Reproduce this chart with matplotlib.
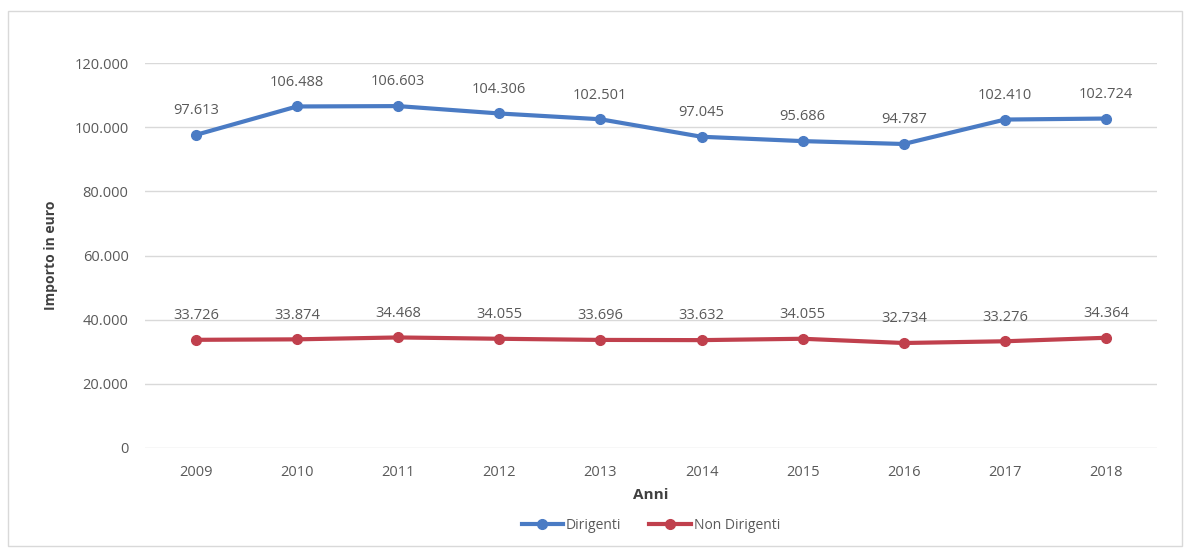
import matplotlib.pyplot as plt
import matplotlib.ticker as mtick
from matplotlib.patches import Rectangle

plt.rcParams["font.family"] = ["Open Sans", "DejaVu Sans"]

anni = ['2009', '2010', '2011', '2012', '2013', '2014', '2015', '2016', '2017', '2018']
dirigenti = [97613, 106488, 106603, 104306, 102501, 97045, 95686, 94787, 102410, 102724]
non_dirigenti = [33726, 33874, 34468, 34055, 33696, 33632, 34055, 32734, 33276, 34364]

blue = '#4a7bc4'
red = '#c0404d'
grey_text = '#595959'


def it_fmt(v, pos=None):
    return f'{int(v):,}'.replace(',', '.')


fig = plt.figure(figsize=(11.9, 5.49), dpi=100)
ax = fig.add_axes([0.122, 0.184, 0.850, 0.701])

x = range(len(anni))
ax.plot(x, dirigenti, color=blue, lw=3, marker='o', ms=7, label='Dirigenti', zorder=3)
ax.plot(x, non_dirigenti, color=red, lw=3, marker='o', ms=7, label='Non Dirigenti', zorder=3)

# etichette sopra i punti
for i, v in enumerate(dirigenti):
    ax.annotate(it_fmt(v), (i, v), xytext=(0, 12), textcoords='offset points',
                ha='center', va='bottom', fontsize=10.5, color=grey_text)
for i, v in enumerate(non_dirigenti):
    ax.annotate(it_fmt(v), (i, v), xytext=(0, 12), textcoords='offset points',
                ha='center', va='bottom', fontsize=10.5, color=grey_text)

ax.set_xlim(-0.5, len(anni) - 0.5)
ax.set_ylim(0, 120000)
ax.set_yticks(range(0, 120001, 20000))
ax.yaxis.set_major_formatter(mtick.FuncFormatter(it_fmt))
ax.set_xticks(list(x))
ax.set_xticklabels(anni)

ax.grid(axis='y', color='#d9d9d9', lw=1)
ax.set_axisbelow(True)
for s in ['top', 'right', 'left', 'bottom']:
    ax.spines[s].set_visible(False)
ax.tick_params(axis='both', length=0, labelsize=10.5, colors=grey_text, pad=12)

ax.set_xlabel('Anni', fontsize=11, weight='bold', color='#404040', labelpad=6)
ax.set_ylabel('Importo in euro', fontsize=10, weight='bold', color='#404040', labelpad=12)

ax.legend(loc='upper center', bbox_to_anchor=(0.5, -0.15), ncol=2, frameon=False,
          fontsize=10, labelcolor=grey_text, handlelength=3, columnspacing=2,
          handletextpad=0.2)

fig.patches.append(Rectangle((0.007, 0.005), 0.986, 0.975, transform=fig.transFigure,
                             fill=False, edgecolor='#d9d9d9', lw=1))

plt.savefig('out.png', dpi=100)
